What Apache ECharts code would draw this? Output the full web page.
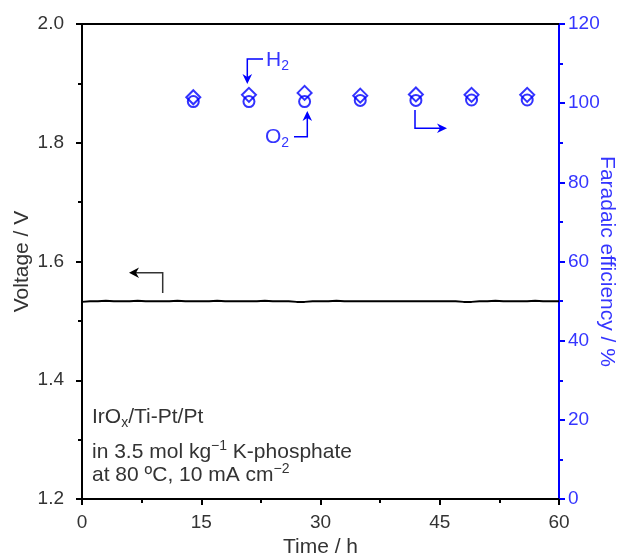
<!DOCTYPE html>
<html>
<head>
<meta charset="utf-8">
<script src="https://cdn.jsdelivr.net/npm/echarts@6/dist/echarts.min.js"></script>
<style>
html,body{margin:0;padding:0;background:#fff;}
#chart{width:622px;height:556px;}
</style>
</head>
<body>
<div id="chart"></div>
<script>
// ---- data ----
const timeH = [0,1,2,3,4,5,6,7,8,9,10,11,12,13,14,15,16,17,18,19,20,21,22,23,24,25,26,27,28,29,30,
  31,32,33,34,35,36,37,38,39,40,41,42,43,44,45,46,47,48,49,50,51,52,53,54,55,56,57,58,59,60];
const voltage = [1.532,1.533,1.533,1.534,1.533,1.533,1.533,1.534,1.533,1.533,
  1.533,1.533,1.534,1.533,1.533,1.533,1.533,1.534,1.533,1.533,
  1.533,1.533,1.533,1.534,1.533,1.533,1.533,1.532,1.532,1.533,
  1.533,1.533,1.534,1.533,1.533,1.533,1.533,1.533,1.533,1.533,
  1.533,1.533,1.533,1.533,1.533,1.533,1.533,1.533,1.532,1.532,
  1.533,1.533,1.534,1.533,1.533,1.533,1.533,1.534,1.533,1.533,1.533];
const feTime = [14,21,28,35,42,49,56];
const feH2 = [101.5,102.1,102.6,101.9,102.2,102.1,102.1];
const feO2 = [100.4,100.4,100.4,100.7,100.7,100.8,100.8];
const xTicks = [0,15,30,45,60];
const yLeftTicks = [1.2,1.4,1.6,1.8,2.0];
const yRightTicks = [0,20,40,60,80,100,120];

const FONT = 'Liberation Sans, Arial, sans-serif';
const GREY = '#333333';
const BLUE = '#0000ff';
const BLUE_TXT = '#3535ff';
const FS = 21;
const FS_TICK = 19;

const chart = echarts.init(document.getElementById('chart'), null, {renderer:'canvas'});

function richStyles(color){
  return {
    m:{fontSize:FS, fontFamily:FONT, color:color, lineHeight:26, verticalAlign:'middle'},
    s:{fontSize:14, fontFamily:FONT, color:color, verticalAlign:'bottom'},
    u:{fontSize:14, fontFamily:FONT, color:color, verticalAlign:'top'}
  };
}
function txt(text, left, top, color){
  return {text:text, left:left, top:top, padding:0, itemGap:0,
    textStyle:{rich:richStyles(color), fontSize:FS, fontFamily:FONT, fontWeight:'normal', color:color}};
}

const option = {
  animation:false,
  backgroundColor:'#ffffff',
  title:[
    txt('{m|IrO}{s|x}{m|/Ti-Pt/Pt}', 92, 404, GREY),
    txt('{m|in 3.5 mol kg}{u|\u22121}{m| K-phosphate}', 92, 439, GREY),
    txt('{m|at 80 \u00baC, 10 mA cm}{u|\u22122}', 92, 462, GREY),
    txt('{m|H}{s|2}', 266, 47, BLUE_TXT),
    txt('{m|O}{s|2}', 265, 124, BLUE_TXT)
  ],
  grid:{left:82, right:63, top:24, bottom:57, containLabel:false, outerBoundsMode:'none'},
  xAxis:[{
    type:'value', min:xTicks[0], max:xTicks[xTicks.length-1], interval:15,
    name:'Time / h', nameLocation:'middle', nameGap:38, nameMoveOverlap:false,
    nameTextStyle:{fontSize:FS, fontFamily:FONT, color:GREY},
    axisLine:{show:true, onZero:false, lineStyle:{color:'#000', width:2}},
    axisTick:{show:true, length:6, lineStyle:{color:'#000', width:2}},
    minorTick:{show:true, splitNumber:2, length:4, lineStyle:{color:'#000', width:2}},
    axisLabel:{fontSize:FS_TICK, fontFamily:FONT, color:GREY, margin:14},
    splitLine:{show:false}
  },{
    type:'value', position:'top', min:0, max:60,
    axisLine:{show:true, onZero:false, lineStyle:{color:'#000', width:2}},
    axisTick:{show:false}, axisLabel:{show:false}, splitLine:{show:false}
  }],
  yAxis:[{
    type:'value', position:'left', min:yLeftTicks[0], max:yLeftTicks[yLeftTicks.length-1], interval:0.2,
    name:'Voltage / V', nameLocation:'middle', nameGap:49, nameRotate:90, nameMoveOverlap:false,
    nameTextStyle:{fontSize:FS, fontFamily:FONT, color:GREY},
    axisLine:{show:true, onZero:false, lineStyle:{color:'#000', width:2}},
    axisTick:{show:true, length:6, lineStyle:{color:'#000', width:2}},
    minorTick:{show:true, splitNumber:2, length:4, lineStyle:{color:'#000', width:2}},
    axisLabel:{fontSize:FS_TICK, fontFamily:FONT, color:GREY, margin:18, formatter:v=>v.toFixed(1)},
    splitLine:{show:false}
  },{
    type:'value', position:'right', min:yRightTicks[0], max:yRightTicks[yRightTicks.length-1], interval:20,
    name:'Faradaic efficiency / %', nameLocation:'middle', nameGap:37, nameRotate:-90, nameMoveOverlap:false,
    nameTextStyle:{fontSize:FS, fontFamily:FONT, color:BLUE_TXT},
    axisLine:{show:true, onZero:false, lineStyle:{color:BLUE, width:2}},
    axisTick:{show:true, length:6, lineStyle:{color:BLUE, width:2}},
    minorTick:{show:true, splitNumber:2, length:4, lineStyle:{color:BLUE, width:2}},
    axisLabel:{fontSize:FS_TICK, fontFamily:FONT, color:BLUE_TXT, margin:9},
    splitLine:{show:false}
  }],
  series:[{
    type:'line', xAxisIndex:0, yAxisIndex:0,
    data:timeH.map((t,i)=>[t, voltage[i]]),
    showSymbol:false, symbol:'none',
    lineStyle:{color:'#000', width:2}, z:3
  },{
    type:'scatter', xAxisIndex:0, yAxisIndex:1,
    data:feTime.map((t,i)=>[t, feO2[i]]),
    symbol:'circle', symbolSize:11,
    itemStyle:{color:'rgba(0,0,0,0)', borderColor:BLUE, borderWidth:2}, z:4
  },{
    type:'scatter', xAxisIndex:0, yAxisIndex:1,
    data:feTime.map((t,i)=>[t, feH2[i]]),
    symbol:'diamond', symbolSize:[14,14],
    itemStyle:{color:'rgba(0,0,0,0)', borderColor:BLUE, borderWidth:2}, z:5
  }],
  graphic:[
    {type:'polyline', shape:{points:[[162.7,293],[162.7,272.7],[136,272.7]]}, style:{stroke:GREY, lineWidth:1.5, fill:null}},
    {type:'polygon', shape:{points:[[129,272.7],[139,267.5],[136,272.7],[139,277.9]]}, style:{fill:'#000'}},
    {type:'polyline', shape:{points:[[263,59],[247.3,59],[247.3,78]]}, style:{stroke:BLUE, lineWidth:1.5, fill:null}},
    {type:'polygon', shape:{points:[[247.3,84],[242.5,74],[247.3,77],[252.1,74]]}, style:{fill:BLUE}},
    {type:'polyline', shape:{points:[[294,136.7],[307.3,136.7],[307.3,117]]}, style:{stroke:BLUE, lineWidth:1.5, fill:null}},
    {type:'polygon', shape:{points:[[307.3,111],[302.5,121],[307.3,118],[312.1,121]]}, style:{fill:BLUE}},
    {type:'polyline', shape:{points:[[415,110],[415,128.3],[440,128.3]]}, style:{stroke:BLUE, lineWidth:1.5, fill:null}},
    {type:'polygon', shape:{points:[[447,128.3],[437,123.5],[440,128.3],[437,133.1]]}, style:{fill:BLUE}}
  ]
};
chart.setOption(option);
</script>
</body>
</html>
